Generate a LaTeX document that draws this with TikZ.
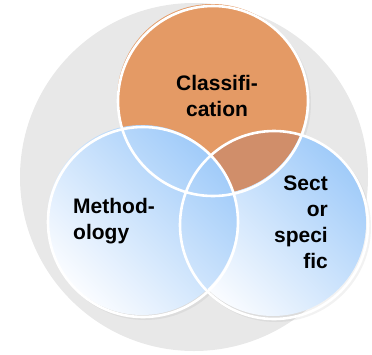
\documentclass[tikz,border=0pt]{standalone}
\usepackage{fontspec}
\setmainfont{Liberation Sans}
\usepackage{tikz}
\usetikzlibrary{calc}
\usetikzlibrary{positioning}

\definecolor{ringgray}{RGB}{232,232,232}
\definecolor{classorange}{RGB}{228,154,101}
\definecolor{overorange}{RGB}{208,142,106}
\definecolor{skyblue}{RGB}{160,203,249}
\definecolor{paleblue}{RGB}{250,252,255}

\tikzset{
  bluefill/.style={bottom color=paleblue, top color=skyblue, shading angle=-45},
  whitering/.style={draw=white, line width=2.6pt},
  label/.style={font=\bfseries\fontsize{21}{26}\selectfont, inner sep=0pt}
}

\begin{document}
\begin{tikzpicture}[x=1pt, y=-1pt, line cap=round, line join=round]
  \useasboundingbox (0,0) rectangle (372,354);
  %--- centres
    \coordinate (C) at (212, 99);
    \coordinate (M) at (142, 220);
    \coordinate (S) at (273, 223);
  %--- background disc
    \fill[ringgray] (194, 177) circle (174);
  %--- shadows
    \fill[black, opacity=.05] ($(C)+(3,4)$) circle (96);
    \fill[black, opacity=.05] ($(M)+(3,4)$) circle (96);
    \fill[black, opacity=.05] ($(S)+(3,4)$) circle (95);
  %--- Sector specific
    \shade[bluefill] (S) circle (93);
  %--- Classification
    \fill[classorange] (C) circle (95);
    \begin{scope}
      \clip (S) circle (93);
      \fill[overorange] (C) circle (95);
    \end{scope}
  %--- Methodology
    \shade[bluefill] (M) circle (95);
  %--- rings
    \draw[whitering] ($(S)+(1,2)$) circle (94);
    \draw[whitering] ($(C)+(1,2)$) circle (95);
    \draw[whitering] ($(M)+(1,2)$) circle (95);
  %--- texts
    \node[label, align=center] (classif) at (217, 96) {Classifi-\\cation};
    \node[label, align=left, anchor=west] (method) at (73, 221) {Method-\\ology};
    \node[label, align=right, anchor=east] (sector) at (328, 222) {Sect\\or\\speci\\fic};
\end{tikzpicture}
\end{document}
